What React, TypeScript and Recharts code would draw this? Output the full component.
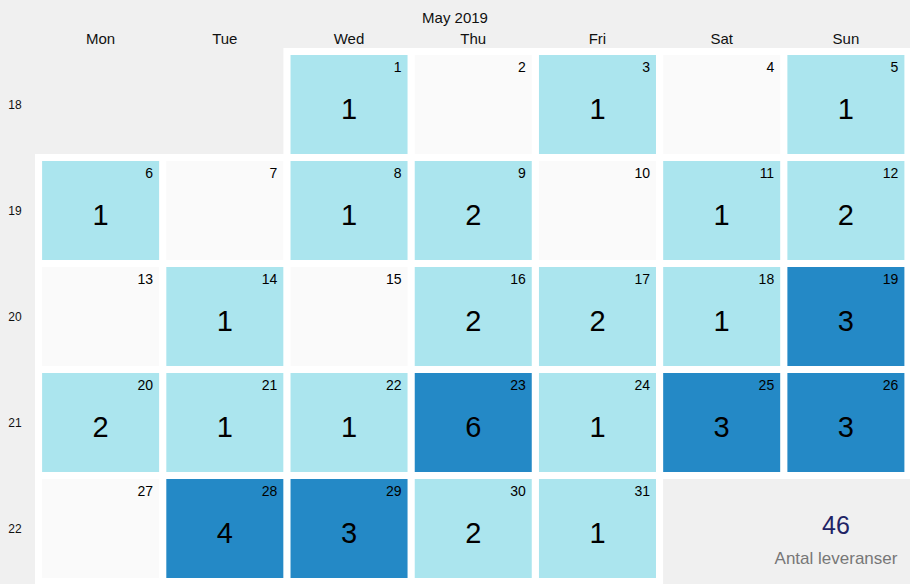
import React from "react";
import { Scatter, ScatterChart, XAxis, YAxis } from "recharts";

const TITLE = "May 2019";
const WEEKDAYS = ["Mon", "Tue", "Wed", "Thu", "Fri", "Sat", "Sun"];
const WEEK_NUMBERS = [18, 19, 20, 21, 22];
const DAYS = [
  1, 2, 3, 4, 5, 6, 7, 8, 9, 10, 11, 12, 13, 14, 15, 16, 17, 18, 19, 20, 21, 22, 23, 24, 25, 26,
  27, 28, 29, 30, 31,
];
const LEVERANSER = [
  1, 0, 1, 0, 1, 1, 0, 1, 2, 0, 1, 2, 0, 1, 0, 2, 2, 1, 3, 2, 1, 1, 6, 1, 3, 3, 0, 4, 3, 2, 1,
];
const TOTAL_LABEL = "Antal leveranser";

// 1 maj 2019 = onsdag
const FIRST_WEEKDAY = 2;

const W = 910;
const H = 584;
const AXIS_W = 38.5;
const AXIS_H = 30;
const MARGIN = { top: 51.5 - AXIS_H, left: 0, right: 2, bottom: 2.5 };
const PITCH_X = (W - AXIS_W - MARGIN.right) / 7;
const PITCH_Y = (H - 51.5 - MARGIN.bottom) / 5;
const CELL_W = PITCH_X - 7.2;
const CELL_H = PITCH_Y - 7;

const FONT = '"Liberation Sans", Arial, Helvetica, sans-serif';

const data = DAYS.map((day, i) => {
  const idx = day - 1 + FIRST_WEEKDAY;
  return {
    day,
    col: idx % 7,
    week: WEEK_NUMBERS[Math.floor(idx / 7)],
    value: LEVERANSER[i],
  };
});

const total = LEVERANSER.reduce((a, b) => a + b, 0);

function color(v: number) {
  if (v <= 0) return "#fafafa";
  if (v < 3) return "#abe5ee";
  return "#2489c6";
}

function Backdrop(props: any) {
  const { cx, cy } = props;
  return (
    <rect
      x={cx - PITCH_X / 2 - 3.5}
      y={cy - PITCH_Y / 2 - 3.5}
      width={PITCH_X + 7}
      height={PITCH_Y + 7}
      fill="#ffffff"
    />
  );
}

function DayCell(props: any) {
  const { cx, cy, payload } = props;
  const x = cx - CELL_W / 2;
  const y = cy - CELL_H / 2;
  return (
    <g>
      <rect x={x} y={y} width={CELL_W} height={CELL_H} fill={color(payload.value)} />
      <text x={x + CELL_W - 6} y={y + 17} textAnchor="end" fontSize={14} fill="#000">
        {payload.day}
      </text>
      {payload.value > 0 && (
        <text x={cx} y={cy + 14} textAnchor="middle" fontSize={29} fill="#000">
          {payload.value}
        </text>
      )}
    </g>
  );
}

function DayTick(props: any) {
  const { x, payload } = props;
  return (
    <text x={x} y={44} textAnchor="middle" fontSize={15} fill="#111">
      {WEEKDAYS[payload.value]}
    </text>
  );
}

function WeekTick(props: any) {
  const { y, payload } = props;
  return (
    <text x={15} y={y + 4.5} textAnchor="middle" fontSize={12} fill="#111">
      {payload.value}
    </text>
  );
}

export default function App() {
  return (
    <div
      style={{
        position: "absolute",
        left: 0,
        top: 0,
        width: W,
        height: H,
        background: "#f0f0f0",
        fontFamily: FONT,
      }}
    >
      <div
        style={{
          position: "absolute",
          left: 0,
          width: W,
          top: 9,
          textAlign: "center",
          fontSize: 15,
          color: "#111",
        }}
      >
        {TITLE}
      </div>
      <ScatterChart width={W} height={H} margin={MARGIN}>
        <XAxis
          type="number"
          dataKey="col"
          orientation="top"
          domain={[-0.5, 6.5]}
          ticks={[0, 1, 2, 3, 4, 5, 6]}
          axisLine={false}
          tickLine={false}
          height={AXIS_H}
          tick={<DayTick />}
        />
        <YAxis
          type="number"
          dataKey="week"
          domain={[17.5, 22.5]}
          ticks={WEEK_NUMBERS}
          reversed
          axisLine={false}
          tickLine={false}
          width={AXIS_W}
          tick={<WeekTick />}
        />
        <Scatter data={data} shape={<Backdrop />} isAnimationActive={false} />
        <Scatter data={data} shape={<DayCell />} isAnimationActive={false} />
      </ScatterChart>
      <div
        style={{
          position: "absolute",
          left: 736,
          width: 200,
          top: 510,
          textAlign: "center",
        }}
      >
        <div style={{ fontSize: 25, color: "#1f2466", lineHeight: "30px" }}>{total}</div>
        <div style={{ fontSize: 17, color: "#777", marginTop: 9, lineHeight: "20px" }}>
          {TOTAL_LABEL}
        </div>
      </div>
    </div>
  );
}
